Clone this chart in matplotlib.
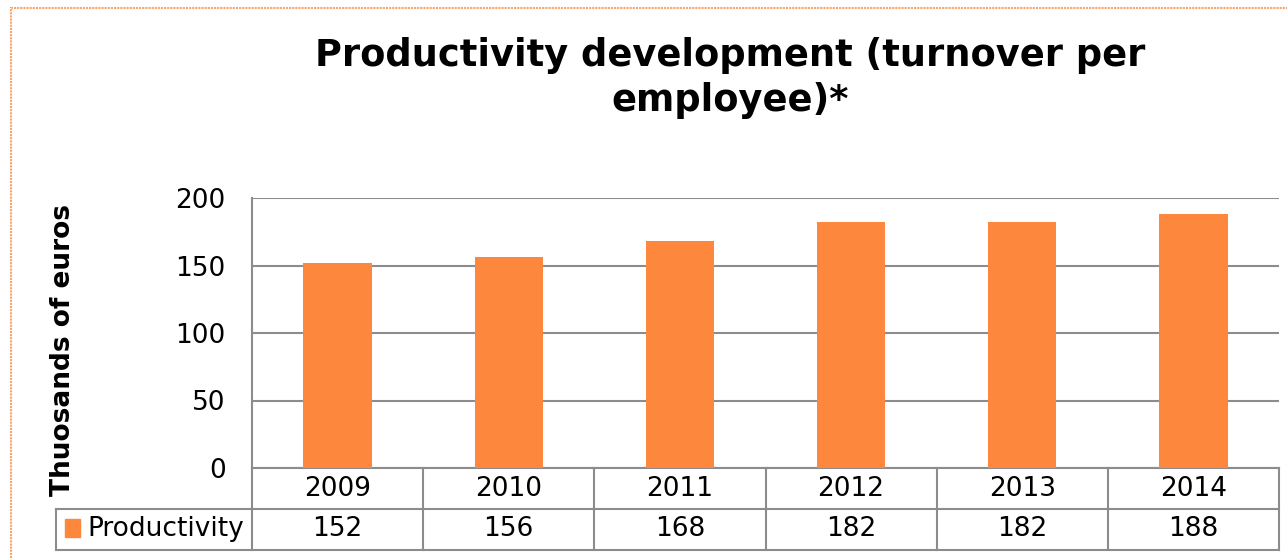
import matplotlib
matplotlib.use("Agg")
import matplotlib.pyplot as plt
from matplotlib.patches import Rectangle
from matplotlib.lines import Line2D
import matplotlib.transforms as mtransforms

years = ["2009", "2010", "2011", "2012", "2013", "2014"]
productivity = [152, 156, 168, 182, 182, 188]
series_name = "Productivity"
title = "Productivity development (turnover per\nemployee)*"
ylabel = "Thuosands of euros"
yticks = [0, 50, 100, 150, 200]

W, H = 1287, 558
BAR = "#FD883D"
GRID = "#8C8C8C"
FS = 19

plt.rcParams["font.family"] = ["DejaVu Sans"]
fig = plt.figure(figsize=(W / 100, H / 100), dpi=100)

def fx(px):
    return px / W

def fy(py):
    return 1 - py / H

ax_l, ax_r, ax_t, ax_b = 252, 1279, 198, 468
ax = fig.add_axes([fx(ax_l), fy(ax_b), fx(ax_r - ax_l), fy(ax_t) - fy(ax_b)])

x = list(range(len(years)))
ax.bar(x, productivity, width=0.40, color=BAR, zorder=3)
ax.set_xlim(-0.5, len(years) - 0.5)
ax.set_ylim(0, 200)
ax.set_yticks(yticks)
ax.set_yticklabels([str(v) for v in yticks], fontsize=FS)
ax.tick_params(axis="y", length=0, pad=19)
ax.set_xticks([])
ax.yaxis.grid(True, color=GRID, linewidth=1.5, zorder=0)
for s in ["top", "right", "bottom"]:
    ax.spines[s].set_visible(False)
ax.spines["left"].set_color(GRID)
ax.spines["left"].set_linewidth(1.5)

# data table beneath the plot
ax_h = ax_b - ax_t
row_h = 41
r1 = -row_h / ax_h
r2 = -2 * row_h / ax_h
trans = mtransforms.blended_transform_factory(ax.transData, ax.transAxes)
lk = dict(color=GRID, linewidth=1.5, clip_on=False, transform=trans)
for xb in [i - 0.5 for i in range(len(years) + 1)]:
    ax.add_line(Line2D([xb, xb], [0, r2], **lk))
for yb in [0, r1, r2]:
    ax.add_line(Line2D([-0.5, len(years) - 0.5], [yb, yb], **lk))
for i, (yr, v) in enumerate(zip(years, productivity)):
    ax.text(i, r1 / 2, yr, ha="center", va="center", fontsize=FS,
            transform=trans, clip_on=False)
    ax.text(i, (r1 + r2) / 2, str(v), ha="center", va="center", fontsize=FS,
            transform=trans, clip_on=False)

# legend cell of the table
leg_l = 56
fk = dict(color=GRID, linewidth=1.5, transform=fig.transFigure)
fig.add_artist(Line2D([fx(leg_l), fx(ax_l)], [fy(ax_b + row_h), fy(ax_b + row_h)], **fk))
fig.add_artist(Line2D([fx(leg_l), fx(ax_l)], [fy(ax_b + 2 * row_h), fy(ax_b + 2 * row_h)], **fk))
fig.add_artist(Line2D([fx(leg_l), fx(leg_l)], [fy(ax_b + row_h), fy(ax_b + 2 * row_h)], **fk))
fig.add_artist(Rectangle((fx(65), fy(537)), fx(15), fy(519) - fy(537),
                         color=BAR, transform=fig.transFigure))
fig.text(fx(87), fy(ax_b + 1.5 * row_h), series_name, ha="left", va="center",
         fontsize=FS)

fig.text(fx(63), fy(350), ylabel, rotation=90, ha="center", va="center",
         fontsize=FS, fontweight="bold")
fig.text(fx(730), fy(78), title, ha="center", va="center", fontsize=26.5,
         fontweight="bold", linespacing=1.25)

# chart area border
fig.add_artist(Rectangle((fx(11), fy(H + 20)), fx(W + 20), fy(8) - fy(H + 20),
                         fill=False, edgecolor="#F9A46B", linewidth=1.5,
                         linestyle=(0, (1, 0.5)), transform=fig.transFigure))

fig.savefig("out.png", dpi=100, facecolor="white")
